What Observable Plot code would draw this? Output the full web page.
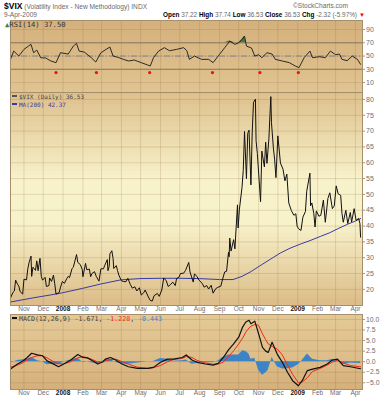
<!DOCTYPE html>
<html><head><meta charset="utf-8">
<script src="https://cdn.jsdelivr.net/npm/d3@7"></script>
<script src="https://cdn.jsdelivr.net/npm/@observablehq/plot@0.6"></script>
<style>
body{margin:0;background:#fff;}
#chart{position:relative;width:388px;height:400px;overflow:hidden;font-family:"Liberation Sans",Arial,sans-serif;}
.abs{position:absolute;white-space:nowrap;line-height:1;}
.mono{font-family:"DejaVu Sans Mono","Liberation Mono",monospace;}
.sw{display:inline-block;width:5px;height:2px;vertical-align:middle;margin-right:2px;position:relative;top:-1px;}
</style></head><body><div id="chart"></div>
<script>
// ---------- DATA ----------
const vixDaily = [
["2007-10-11",17.3],["2007-10-15",19.1],["2007-10-17",19.5],["2007-10-19",22.9],["2007-10-22",21.6],["2007-10-24",21.0],["2007-10-26",19.3],["2007-10-30",18.5],
["2007-11-01",23.2],["2007-11-05",23.0],["2007-11-07",26.5],["2007-11-09",28.5],["2007-11-12",30.5],["2007-11-13",24.1],["2007-11-15",27.0],["2007-11-19",26.0],["2007-11-21",29.0],["2007-11-23",25.9],["2007-11-26",29.8],["2007-11-28",24.1],["2007-11-30",22.9],
["2007-12-04",23.8],["2007-12-06",20.9],["2007-12-10",21.2],["2007-12-11",23.6],["2007-12-14",22.5],["2007-12-17",24.5],["2007-12-19",21.8],["2007-12-21",18.5],["2007-12-26",19.0],["2007-12-28",20.7],["2007-12-31",22.5],
["2008-01-03",21.9],["2008-01-07",23.5],["2008-01-09",24.1],["2008-01-11",23.7],["2008-01-15",26.6],["2008-01-17",27.0],["2008-01-22",31.0],["2008-01-24",28.5],["2008-01-28",27.8],["2008-01-31",26.2],
["2008-02-01",24.0],["2008-02-05",28.2],["2008-02-07",26.2],["2008-02-11",26.4],["2008-02-13",24.0],["2008-02-15",25.0],["2008-02-19",25.6],["2008-02-22",24.0],["2008-02-26",22.6],["2008-02-29",26.5],
["2008-03-04",26.5],["2008-03-06",27.6],["2008-03-10",29.4],["2008-03-11",25.9],["2008-03-13",27.3],["2008-03-14",31.2],["2008-03-17",32.2],["2008-03-19",29.8],["2008-03-20",26.6],["2008-03-24",27.5],["2008-03-26",25.9],["2008-03-28",24.5],
["2008-04-01",22.7],["2008-04-04",22.5],["2008-04-08",22.4],["2008-04-11",23.5],["2008-04-15",21.5],["2008-04-18",20.4],["2008-04-22",20.8],["2008-04-25",19.5],["2008-04-29",20.5],
["2008-05-02",18.2],["2008-05-06",19.0],["2008-05-08",19.8],["2008-05-13",17.6],["2008-05-16",16.5],["2008-05-19",16.3],["2008-05-22",18.0],["2008-05-27",18.7],["2008-05-30",17.8],
["2008-06-03",19.8],["2008-06-06",23.6],["2008-06-10",22.7],["2008-06-13",20.9],["2008-06-17",21.6],["2008-06-20",22.3],["2008-06-24",21.2],["2008-06-26",23.4],["2008-06-30",23.9],
["2008-07-02",25.0],["2008-07-07",25.1],["2008-07-10",26.0],["2008-07-15",28.5],["2008-07-17",25.5],["2008-07-22",22.3],["2008-07-24",24.9],["2008-07-28",24.0],["2008-07-31",22.9],
["2008-08-05",21.9],["2008-08-08",20.7],["2008-08-12",21.2],["2008-08-15",20.1],["2008-08-19",21.3],["2008-08-22",18.8],["2008-08-26",20.2],["2008-08-29",20.6],
["2008-09-03",21.0],["2008-09-05",22.6],["2008-09-09",25.5],["2008-09-12",25.7],["2008-09-15",31.7],["2008-09-16",30.3],["2008-09-17",36.2],["2008-09-19",32.1],["2008-09-23",35.7],["2008-09-25",32.8],["2008-09-29",46.7],["2008-09-30",39.4],
["2008-10-02",45.3],["2008-10-06",52.1],["2008-10-08",57.5],["2008-10-10",69.9],["2008-10-13",55.0],["2008-10-15",69.3],["2008-10-17",70.3],["2008-10-20",53.0],["2008-10-22",69.7],["2008-10-24",79.1],["2008-10-27",80.1],["2008-10-28",67.0],["2008-10-30",62.9],["2008-10-31",59.9],
["2008-11-04",47.7],["2008-11-06",63.7],["2008-11-10",58.7],["2008-11-12",66.5],["2008-11-14",59.8],["2008-11-17",67.6],["2008-11-20",80.9],["2008-11-21",72.7],["2008-11-24",64.7],["2008-11-26",60.9],["2008-11-28",55.3],
["2008-12-01",68.5],["2008-12-05",59.9],["2008-12-09",58.0],["2008-12-12",54.3],["2008-12-15",56.4],["2008-12-18",47.3],["2008-12-22",44.9],["2008-12-26",43.4],["2008-12-29",43.9],["2008-12-31",40.0],
["2009-01-02",39.2],["2009-01-06",38.6],["2009-01-09",42.8],["2009-01-13",44.6],["2009-01-15",51.0],["2009-01-20",56.7],["2009-01-21",46.4],["2009-01-23",47.3],["2009-01-26",44.0],["2009-01-28",39.7],["2009-01-30",44.8],
["2009-02-03",43.1],["2009-02-06",43.4],["2009-02-10",48.2],["2009-02-13",41.2],["2009-02-17",48.7],["2009-02-20",50.5],["2009-02-24",45.5],["2009-02-27",46.4],
["2009-03-02",52.7],["2009-03-05",50.2],["2009-03-09",49.7],["2009-03-11",44.0],["2009-03-13",41.2],["2009-03-17",45.0],["2009-03-20",40.8],["2009-03-24",44.3],["2009-03-26",41.3],["2009-03-30",45.5],
["2009-04-02",41.8],["2009-04-06",42.4],["2009-04-08",40.8],["2009-04-09",36.5]
];
const ma200 = [
["2007-10-11",16.0],["2007-11-15",17.3],["2007-12-26",18.7],["2008-01-31",20.3],["2008-02-29",21.7],["2008-03-31",23.0],["2008-04-30",23.4],["2008-06-01",23.5],["2008-07-01",23.5],["2008-08-01",23.4],["2008-09-01",23.1],["2008-09-22",23.1],["2008-10-06",24.1],["2008-10-20",25.6],["2008-11-05",27.7],["2008-11-20",29.6],["2008-12-05",31.5],["2008-12-20",33.0],["2009-01-05",34.3],["2009-01-20",35.4],["2009-02-05",36.7],["2009-02-20",37.9],["2009-03-05",39.2],["2009-03-20",40.6],["2009-04-01",41.6],["2009-04-09",42.37]
];
const rsi14 = [
["2007-10-11",45],["2007-10-16",57.5],["2007-10-24",50],["2007-11-01",60],["2007-11-08",65],["2007-11-12",67.6],["2007-11-16",55],["2007-11-21",59],["2007-11-27",47.5],["2007-12-05",47],["2007-12-13",42.5],["2007-12-21",40],["2007-12-28",55],
["2008-01-09",53],["2008-01-17",65],["2008-01-22",69],["2008-01-26",57.5],["2008-02-03",56],["2008-02-14",47.5],["2008-02-21",41],["2008-02-29",55],["2008-03-08",60],["2008-03-14",63.6],["2008-03-19",50],["2008-03-27",48],
["2008-04-04",45],["2008-04-12",42.5],["2008-04-21",44],["2008-05-02",40],["2008-05-16",35],["2008-05-21",47.5],["2008-05-29",57.5],["2008-06-07",62.6],["2008-06-15",58],["2008-06-26",60],["2008-07-07",62.6],["2008-07-12",58],["2008-07-16",45],["2008-07-24",50],
["2008-08-04",45],["2008-08-15",45],["2008-08-22",40],["2008-09-01",52.5],["2008-09-09",62.5],["2008-09-17",72.6],["2008-09-25",67.6],["2008-10-01",70],["2008-10-06",75],["2008-10-10",80],["2008-10-13",65],["2008-10-21",62],["2008-10-26",50],
["2008-11-01",52],["2008-11-06",47.5],["2008-11-14",55],["2008-11-22",53],["2008-11-27",45],["2008-12-08",42.5],["2008-12-19",40],["2008-12-28",35],["2009-01-03",32.5],["2009-01-11",47.5],["2009-01-20",57.5],["2009-01-24",47.5],
["2009-02-04",49],["2009-02-13",47.5],["2009-02-21",57.5],["2009-03-01",52],["2009-03-07",53],["2009-03-11",45],["2009-03-19",43],["2009-03-27",50],["2009-04-04",45],["2009-04-09",37.5]
];
const rsiDotDates = ["2007-12-21","2008-02-22","2008-05-15","2008-08-21","2008-11-03","2009-01-02"];
const rsiDotLevel = 25;
// date, MACD(12,26,9), signal, histogram
const macdRows = [
["2007-10-11",-1.75,-1.3,-0.3],["2007-10-22",-0.56,-0.8,0.3],["2007-10-31",0.24,-0.2,0.45],["2007-11-06",1.0,0.4,0.6],["2007-11-13",2.0,1.0,1.0],["2007-11-22",1.6,1.4,0.2],["2007-11-30",1.4,1.4,0.0],
["2007-12-07",0.2,0.9,-0.7],["2007-12-15",-0.4,0.2,-0.6],["2007-12-25",-1.2,-0.5,-0.7],["2008-01-02",-0.55,-0.5,-0.05],["2008-01-13",0.4,0.0,0.4],["2008-01-24",1.7,0.9,0.8],
["2008-02-01",1.0,1.2,-0.2],["2008-02-08",0.9,0.9,0.0],["2008-02-16",0.2,0.5,-0.3],["2008-02-24",-0.55,-0.1,-0.45],["2008-03-03",0.0,-0.1,0.1],["2008-03-07",0.6,0.2,0.4],["2008-03-15",1.0,0.5,0.5],["2008-03-23",0.4,0.6,-0.2],
["2008-04-02",-0.55,0.0,-0.55],["2008-04-12",-1.2,-0.6,-0.6],["2008-04-26",-1.6,-1.3,-0.3],["2008-05-12",-1.6,-1.6,0.0],["2008-05-21",-1.35,-1.4,0.05],["2008-06-01",-0.15,-0.9,0.75],["2008-06-12",0.6,0.0,0.6],["2008-06-21",0.6,0.5,0.1],
["2008-07-05",1.0,0.8,0.2],["2008-07-11",1.6,1.2,0.4],["2008-07-20",0.4,1.0,-0.6],["2008-07-28",-0.15,0.3,-0.45],["2008-08-10",-0.55,-0.3,-0.25],["2008-08-22",-0.8,-0.6,-0.2],["2008-08-30",-0.4,-0.55,0.15],
["2008-09-07",1.0,-0.1,1.1],["2008-09-15",2.8,1.2,1.6],["2008-09-23",4.2,2.6,1.6],["2008-10-01",5.8,4.2,1.6],["2008-10-07",8.2,5.6,2.6],["2008-10-12",9.4,7.0,2.4],["2008-10-17",9.8,8.0,1.8],["2008-10-20",9.0,8.4,0.6],["2008-10-26",9.6,8.8,0.8],
["2008-11-01",6.6,8.6,-2.0],["2008-11-07",3.4,6.6,-3.2],["2008-11-12",2.5,5.2,-2.7],["2008-11-16",2.2,4.2,-2.0],["2008-11-22",4.6,3.6,1.0],["2008-11-30",1.8,3.0,-1.2],
["2008-12-08",-0.15,1.6,-1.75],["2008-12-16",-2.5,-0.8,-1.7],["2008-12-24",-4.5,-3.0,-1.5],["2009-01-02",-5.7,-5.0,-0.7],["2009-01-08",-4.5,-4.8,0.3],["2009-01-16",-2.1,-3.8,1.8],["2009-01-24",-1.75,-2.3,0.6],
["2009-02-05",-1.35,-1.6,0.25],["2009-02-16",-0.55,-0.8,0.25],["2009-02-24",0.4,-0.1,0.5],["2009-03-04",0.6,0.3,0.3],["2009-03-13",-0.95,-0.3,-0.65],["2009-03-24",-1.2,-0.9,-0.3],["2009-04-09",-1.671,-1.228,-0.443]
];
const rsiTicks = [10, 30, 50, 70, 90];
const rsiBands = [70, 30];
const rsiMid = [50];
const priceTicks = [20, 25, 30, 35, 40, 45, 50, 55, 60, 65, 70, 75, 80];
const macdTicks = [-5, -2.5, 0, 2.5, 5, 7.5, 10];

// ---------- BUILD ----------
const parse = d3.utcParse("%Y-%m-%d");
const vixRows = vixDaily.map(([d, v]) => ({date: parse(d), value: v}));
const maRows = ma200.map(([d, v]) => ({date: parse(d), value: v}));
const rsiRows = rsi14.map(([d, v]) => ({date: parse(d), value: v}));
const dotRows = rsiDotDates.map(d => ({date: parse(d), value: rsiDotLevel}));
const macdData = macdRows.map(([d, m, s, h]) => ({date: parse(d), macd: m, signal: s, hist: h}));

const chart = document.getElementById("chart");
const W = 388;
const xDomain = [parse("2007-10-11"), parse("2009-04-12")];
const monthTicks = d3.utcMonth.range(parse("2007-11-01"), parse("2009-04-02"));
const yearTicks = monthTicks.filter(d => d.getUTCMonth() === 0);
const plainTicks = monthTicks.filter(d => d.getUTCMonth() !== 0);
const gridStyle = {stroke: "#8a6a3a", strokeOpacity: 0.2};
const borderColor = "#a58e6c";
const baseStyle = {background: "transparent", overflow: "visible", fontFamily: '"Liberation Sans", Arial, sans-serif', fontSize: "7px", color: "#6e6e6e"};
const margins = {width: W, marginLeft: 10, marginRight: 26};

// background shading bands (decorative, derived from each panel's y domain)
function shade(domain, stops, n = 48) {
  const [lo, hi] = domain;
  const c = d3.scaleLinear().domain(stops.map(s => s[0])).range(stops.map(s => s[1])).interpolate(d3.interpolateRgb);
  const step = (hi - lo) / n;
  return d3.range(n).map(i => ({top: hi - step * i + step * 0.3, bottom: hi - step * (i + 1) - step * 0.3, color: c((i + 0.5) / n)}));
}
function shadeMark(domain, stops) {
  return Plot.rect(shade(domain, stops), {y1: "bottom", y2: "top", fill: "color", clip: true});
}
function place(svg, top) {
  svg.style.position = "absolute";
  svg.style.left = "0px";
  svg.style.top = top + "px";
  chart.appendChild(svg);
}
function xAxes() {
  return [
    Plot.axisX(plainTicks, {anchor: "bottom", label: null, tickSize: 0, tickPadding: 1, tickFormat: d3.utcFormat("%b"), fontSize: 6.5}),
    Plot.axisX(yearTicks, {anchor: "bottom", label: null, tickSize: 0, tickPadding: 1, tickFormat: d3.utcFormat("%Y"), fontSize: 6.5, fontWeight: "bold", fill: "#111"})
  ];
}
const yAxisOpts = {anchor: "right", label: null, tickSize: 2, tickPadding: 1.5, stroke: "#999"};

// RSI panel
const rsiDomain = [-5, 103.6];
const rsiPlot = Plot.plot({
  ...margins, height: 72, marginTop: 0, marginBottom: 0, style: baseStyle,
  color: {type: "identity"},
  x: {type: "utc", domain: xDomain, axis: null},
  y: {domain: rsiDomain, label: null},
  marks: [
    shadeMark(rsiDomain, [[0, "#d5b07c"], [1, "#e0c491"]]),
    Plot.gridX(monthTicks, gridStyle),
    Plot.gridY(rsiTicks, gridStyle),
    Plot.ruleY(rsiBands, {stroke: "#8c7a66", strokeWidth: 1}),
    Plot.ruleY(rsiMid, {stroke: "#7d8594", strokeDasharray: "6,2,1,2"}),
    Plot.areaY(rsiRows, {x: "date", y1: 70, y2: d => Math.max(70, d.value), fill: "#4b7a3c"}),
    Plot.lineY(rsiRows, {x: "date", y: "value", stroke: "#1a1a1a", strokeWidth: 0.9}),
    Plot.dot(dotRows, {x: "date", y: "value", r: 1.6, fill: "#ee1111", stroke: "none"}),
    Plot.axisY(rsiTicks, yAxisOpts),
    Plot.frame({stroke: borderColor})
  ]
});
place(rsiPlot, 20);

// Price panel
const priceDomain = [14.9, 82.2];
const pricePlot = Plot.plot({
  ...margins, height: 222, marginTop: 0, marginBottom: 9, style: baseStyle,
  color: {type: "identity"},
  x: {type: "utc", domain: xDomain, label: null},
  y: {domain: priceDomain, label: null},
  marks: [
    shadeMark(priceDomain, [[0, "#ddbf8b"], [0.42, "#f8f2cb"], [0.62, "#f8f2cb"], [1, "#dcbd88"]]),
    Plot.gridX(monthTicks, gridStyle),
    Plot.gridY(priceTicks, gridStyle),
    Plot.lineY(maRows, {x: "date", y: "value", stroke: "#3a3aa6", strokeWidth: 1}),
    Plot.lineY(vixRows, {x: "date", y: "value", stroke: "#111", strokeWidth: 1}),
    Plot.axisY(priceTicks, yAxisOpts),
    ...xAxes(),
    Plot.frame({stroke: borderColor})
  ]
});
place(pricePlot, 92);

// MACD panel
const macdDomain = [-6.59, 11.18];
const macdPlot = Plot.plot({
  ...margins, height: 86, marginTop: 0, marginBottom: 11, style: baseStyle,
  color: {type: "identity"},
  x: {type: "utc", domain: xDomain, label: null},
  y: {domain: macdDomain, label: null},
  marks: [
    shadeMark(macdDomain, [[0, "#e4c997"], [0.5, "#dfc08c"], [1, "#d5b07b"]]),
    Plot.gridX(monthTicks, gridStyle),
    Plot.gridY(macdTicks, gridStyle),
    Plot.areaY(macdData, {x: "date", y: "hist", fill: "#3d84c6"}),
    Plot.lineY(macdData, {x: "date", y: "signal", stroke: "#f02a1a", strokeWidth: 1}),
    Plot.lineY(macdData, {x: "date", y: "macd", stroke: "#111", strokeWidth: 1.2}),
    Plot.axisY(macdTicks, {...yAxisOpts, tickFormat: d3.format(".1f"), fontSize: 6.8}),
    ...xAxes(),
    Plot.frame({stroke: borderColor})
  ]
});
place(macdPlot, 314);

// ---------- TEXT ----------
const html = `
<div class="abs" style="left:4px;top:2px;font-size:6.6px;color:#6a6a6a"><b style="font-size:8.5px;color:#000">$VIX</b> (Volatility Index - New Methodology) INDX</div>
<div class="abs" style="right:40px;top:3px;font-size:6.6px;color:#6a6a6a">©StockCharts.com</div>
<div class="abs" style="left:4px;top:12px;font-size:6.6px;color:#6a6a6a">9-Apr-2009</div>
<div class="abs" style="right:31px;top:12px;font-size:6.4px;color:#6a6a6a"><b style="color:#000">Open</b> 37.22 <b style="color:#000">High</b> 37.74 <b style="color:#000">Low</b> 36.53 <b style="color:#000">Close</b> 36.53 <b style="color:#000">Chg</b> -2.32 (-5.97%)</div>
<div class="abs" style="left:359px;top:12px;font-size:6px;color:#e00">▼</div>
<div class="abs mono" style="left:5px;top:21px;font-size:7.2px;color:#333"><span style="color:#4b7a3c">▲</span>RSI(14) 37.50</div>
<div class="abs mono" style="left:12px;top:94px;font-size:6px;color:#444"><span class="sw" style="background:#555"></span>$VIX (Daily) 36.53</div>
<div class="abs mono" style="left:12px;top:101.5px;font-size:6px;color:#3a3aa6"><span class="sw" style="background:#3a3aa6"></span>MA(200) 42.37</div>
<div class="abs mono" style="left:12px;top:316px;font-size:6.6px;color:#444"><span class="sw" style="background:#111"></span>MACD(12,26,9) -1.671, <span style="color:#f02a1a">-1.228</span>, <span style="color:#3d84c6">-0.443</span></div>
`;
chart.insertAdjacentHTML("beforeend", html);
</script></body></html>
